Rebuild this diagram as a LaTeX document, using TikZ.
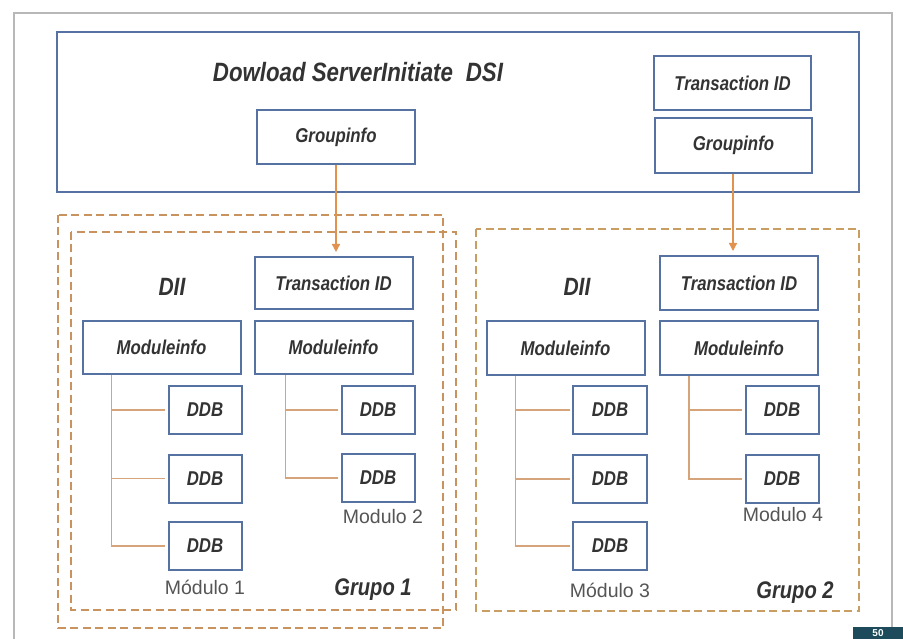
\documentclass[tikz,border=0pt]{standalone}
\usepackage{fontspec}
\setmainfont{Liberation Sans}
\newfontfamily\condfont[FakeStretch=0.84]{Liberation Sans}
\usetikzlibrary{arrows.meta}
\definecolor{boxblue}{HTML}{5672A3}
\definecolor{dashc}{HTML}{C9935F}
\definecolor{dashb}{HTML}{C99E62}
\definecolor{connc}{HTML}{D6A47A}
\definecolor{arrc}{HTML}{E0924E}
\definecolor{txt}{HTML}{333333}
\definecolor{lbl}{HTML}{555555}
\definecolor{framec}{HTML}{B8B8B8}
\definecolor{pagec}{HTML}{1D4B5B}
\tikzset{
  box/.style={draw=boxblue, line width=2pt, fill=white, inner sep=0pt, text=txt,
    font=\condfont\bfseries\itshape\fontsize{20}{22}\selectfont},
  ddb/.style={box, minimum width=73pt, minimum height=48pt},
  wide/.style={box, minimum width=158pt, minimum height=53pt},
  grp/.style={draw=dashc, line width=2pt, dash pattern=on 8pt off 4.5pt},
  conn/.style={draw=connc, line width=1.2pt},
  arr/.style={draw=arrc, line width=1.4pt, -{Triangle[length=8pt,width=8pt]}, shorten >=4pt},
  bigtxt/.style={inner sep=0pt, text=txt, font=\condfont\bfseries\itshape\fontsize{25}{28}\selectfont},
  titletxt/.style={inner sep=0pt, text=txt, font=\condfont\bfseries\itshape\fontsize{26.5}{30}\selectfont},
  grptxt/.style={inner sep=0pt, text=txt, font=\condfont\bfseries\itshape\fontsize{24}{26}\selectfont},
  modtxt/.style={inner sep=0pt, text=lbl, font=\fontsize{19.5}{22}\selectfont},
  frame/.style={draw=framec, line width=1.2pt}
}
\begin{document}
\begin{tikzpicture}[x=1pt,y=-1pt]
\fill[white] (0,0) rectangle (903,639);
\useasboundingbox (0,0) rectangle (903,639);
% page frame
\draw[frame] (14,639) -- (14,13) -- (892,13) -- (892,627);
\fill[pagec] (853,627) rectangle (903,639);
\node[inner sep=0pt, text=white, font=\bfseries\fontsize{10}{11}\selectfont] (pg) at (878,633.5) {50};
% DSI
\node[draw=boxblue, line width=2pt, minimum width=802pt, minimum height=160pt, inner sep=0pt] (dsi) at (458,112) {};
\node[titletxt] (title) at (358,72) {Dowload ServerInitiate\hspace{13pt}DSI};
\node[box, minimum width=158pt, minimum height=54pt] (gi1) at (336,137) {Groupinfo};
\node[box, minimum width=157pt, minimum height=54pt] (tid0) at (732.5,83) {Transaction ID};
\node[box, minimum width=157pt, minimum height=55pt] (gi2) at (733.5,145.5) {Groupinfo};
% groups
\draw[grp] (58,215) rectangle (443,628);
\draw[grp] (71,232) rectangle (456,610);
\draw[grp, draw=dashb] (476,229) rectangle (859,611);
% group 1
\node[wide, minimum height=52pt] (tid1) at (333.5,283) {Transaction ID};
\node[wide] (mi1) at (161.5,347.5) {Moduleinfo};
\node[wide] (mi2) at (333.5,347.5) {Moduleinfo};
\node[ddb] (d11) at (205,410) {DDB};
\node[ddb] (d12) at (205,478.5) {DDB};
\node[ddb] (d13) at (205,546) {DDB};
\node[ddb] (d21) at (378,410) {DDB};
\node[ddb] (d22) at (378,478) {DDB};
\node[bigtxt] (dii1) at (172,287) {DII};
\node[modtxt] (m1) at (205,587) {Módulo 1};
\node[modtxt] (m2) at (383,517) {Modulo 2};
\node[grptxt] (g1) at (373,590) {Grupo 1};
% group 2
\node[wide, minimum height=54pt] (tid2) at (739,283) {Transaction ID};
\node[wide, minimum height=54pt] (mi3) at (565.5,348) {Moduleinfo};
\node[wide, minimum height=54pt] (mi4) at (739,348) {Moduleinfo};
\node[ddb, minimum width=74pt] (d31) at (610,410) {DDB};
\node[ddb, minimum width=74pt] (d32) at (610,479) {DDB};
\node[ddb, minimum width=74pt] (d33) at (610,546) {DDB};
\node[ddb] (d41) at (782,410) {DDB};
\node[ddb] (d42) at (782,479) {DDB};
\node[bigtxt] (dii2) at (577,287) {DII};
\node[modtxt] (m3) at (610,590) {Módulo 3};
\node[modtxt] (m4) at (783,515) {Modulo 4};
\node[grptxt] (g2) at (795,593) {Grupo 2};
% arrows
\draw[arr] (gi1.south) -- (gi1.south |- tid1.north);
\draw[arr] ([xshift=-0.5pt]gi2.south) -- ([xshift=-0.5pt]gi2.south |- tid2.north);
% trees
\coordinate (t1) at ([xshift=30pt]mi1.south west);
\coordinate (t2) at ([xshift=32pt]mi2.south west);
\coordinate (t3) at ([xshift=30pt]mi3.south west);
\coordinate (t4) at ([xshift=30pt]mi4.south west);
\draw[conn] (t1) |- ([xshift=-3pt]d13.west);
\draw[conn] ([xshift=-3pt]d11.west) -- (d11.west -| t1);
\draw[conn] ([xshift=-3pt]d12.west) -- (d12.west -| t1);
\draw[conn] (t2) |- ([xshift=-3pt]d22.west);
\draw[conn] ([xshift=-3pt]d21.west) -- (d21.west -| t2);
\draw[conn] (t3) |- ([xshift=-2pt]d33.west);
\draw[conn] ([xshift=-2pt]d31.west) -- (d31.west -| t3);
\draw[conn] ([xshift=-2pt]d32.west) -- (d32.west -| t3);
\draw[conn] (t4) |- ([xshift=-3pt]d42.west);
\draw[conn] ([xshift=-3pt]d41.west) -- (d41.west -| t4);
\end{tikzpicture}
\end{document}
